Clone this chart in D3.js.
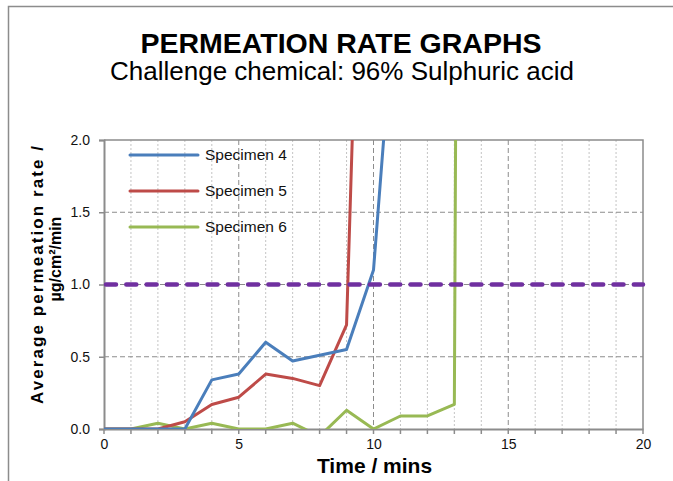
<!DOCTYPE html>
<html>
<head>
<meta charset="utf-8">
<script src="https://cdn.jsdelivr.net/npm/d3@7"></script>
<style>
    body { margin: 0; background: #fff; }
    text { font-family: "Liberation Sans", Arial, sans-serif; }
</style>
</head>
<body>
<div id="chart"></div>
<script>
// data
const minutes = [0, 1, 2, 3, 4, 5, 6, 7, 8, 9, 10, 11, 12, 13, 14]
const specimen4 = [0, 0, 0, 0, 0.34, 0.38, 0.60, 0.47, 0.51, 0.55, 1.10, 3.5]
const specimen5 = [0, 0, 0, 0.05, 0.17, 0.22, 0.38, 0.35, 0.30, 0.72, 6.8]
const specimen6 = [0, 0, 0.04, 0, 0.04, 0, 0, 0.04, -0.05, 0.13, 0, 0.09, 0.09, 0.17, 40]
const seriesNames = ["Specimen 4", "Specimen 5", "Specimen 6"]
const seriesColors = ["#4A7EBB", "#BE4B48", "#98B954"]
const limitValue = 1.0
const xTicks = [0, 5, 10, 15, 20]
const yTicks = [0, 0.5, 1.0, 1.5, 2.0]

class PermeationChart {

    constructor(parentElement) {
        this.parentElement = parentElement
        this.series = [specimen4, specimen5, specimen6].map((vals, i) => ({
            name: seriesNames[i],
            color: seriesColors[i],
            values: vals.map((v, j) => ({ t: minutes[j], v: v }))
        }))
        this.initVis()
    }

    initVis() {
        let vis = this

        vis.width = 673
        vis.height = 481
        vis.margin = { top: 140, right: 30, bottom: 52, left: 104 }
        vis.w = vis.width - vis.margin.left - vis.margin.right
        vis.h = vis.height - vis.margin.top - vis.margin.bottom

        vis.svg = d3.select("#" + vis.parentElement).append("svg")
            .attr("width", vis.width)
            .attr("height", vis.height)

        // outer frame of the chart object
        vis.svg.append("rect")
            .attr("x", 8.5).attr("y", 6.5)
            .attr("width", 700).attr("height", 520)
            .attr("fill", "#fff")
            .attr("stroke", "#8c8c8c")
            .attr("stroke-width", 1.5)

        // titles
        vis.svg.append("text")
            .attr("x", 341).attr("y", 53)
            .attr("text-anchor", "middle")
            .attr("font-size", "28.5px")
            .attr("font-weight", "bold")
            .text("PERMEATION RATE GRAPHS")

        vis.svg.append("text")
            .attr("x", 342).attr("y", 80)
            .attr("text-anchor", "middle")
            .attr("font-size", "26px")
            .text("Challenge chemical: 96% Sulphuric acid")

        vis.g = vis.svg.append("g")
            .attr("transform", "translate(" + vis.margin.left + "," + vis.margin.top + ")")

        vis.x = d3.scaleLinear().domain([0, 20]).range([0, vis.w])
        vis.y = d3.scaleLinear().domain([0, 2]).range([vis.h, 0])

        vis.g.append("clipPath").attr("id", "plot-clip")
            .append("rect").attr("width", vis.w).attr("height", vis.h)

        // minor vertical grid (every minute)
        vis.g.selectAll(".minor-grid")
            .data(d3.range(1, 20).filter(d => d % 5 !== 0))
            .enter().append("line")
            .attr("class", "minor-grid")
            .attr("x1", d => vis.x(d)).attr("x2", d => vis.x(d))
            .attr("y1", 0).attr("y2", vis.h)
            .attr("stroke", "#c4c4c4")
            .attr("stroke-width", 1)
            .attr("stroke-dasharray", "2,2")

        // major vertical grid
        vis.g.selectAll(".major-vgrid")
            .data([5, 10, 15])
            .enter().append("line")
            .attr("class", "major-vgrid")
            .attr("x1", d => vis.x(d)).attr("x2", d => vis.x(d))
            .attr("y1", 0).attr("y2", vis.h)
            .attr("stroke", "#8c8c8c")
            .attr("stroke-width", 1)
            .attr("stroke-dasharray", "5,3")

        // horizontal grid
        vis.g.selectAll(".hgrid")
            .data([0.5, 1.0, 1.5])
            .enter().append("line")
            .attr("class", "hgrid")
            .attr("x1", 0).attr("x2", vis.w)
            .attr("y1", d => vis.y(d)).attr("y2", d => vis.y(d))
            .attr("stroke", "#8c8c8c")
            .attr("stroke-width", 1)
            .attr("stroke-dasharray", "5,3")

        // plot border top / right
        vis.g.append("path")
            .attr("d", "M0,0H" + vis.w + "V" + vis.h)
            .attr("fill", "none")
            .attr("stroke", "#8c8c8c")
            .attr("stroke-width", 1.5)

        // axes
        vis.xAxis = d3.axisBottom(vis.x)
            .tickValues(xTicks)
            .tickSize(0)
            .tickPadding(8)
        vis.yAxis = d3.axisLeft(vis.y)
            .tickValues(yTicks)
            .tickFormat(d3.format(".1f"))
            .tickSize(5)
            .tickPadding(9)

        let xg = vis.g.append("g")
            .attr("class", "x-axis axis")
            .attr("transform", "translate(0," + vis.h + ")")
            .call(vis.xAxis)

        // minor x ticks at every minute
        xg.selectAll(".minor-tick")
            .data(d3.range(0, 21))
            .enter().append("line")
            .attr("class", "minor-tick")
            .attr("x1", d => vis.x(d)).attr("x2", d => vis.x(d))
            .attr("y1", 0).attr("y2", 5)
            .attr("stroke", "#8c8c8c")
            .attr("stroke-width", 1.5)

        let yg = vis.g.append("g")
            .attr("class", "y-axis axis")
            .call(vis.yAxis)

        vis.g.selectAll(".axis path")
            .attr("stroke", "#8c8c8c")
            .attr("stroke-width", 2)
        vis.g.selectAll(".axis .tick line")
            .attr("stroke", "#8c8c8c")
            .attr("stroke-width", 1.5)
        vis.g.selectAll(".axis text")
            .attr("font-family", "Liberation Sans, Arial, sans-serif")
            .attr("font-size", "14px")
            .attr("fill", "#111")
        xg.selectAll(".tick text").attr("dy", "0.85em")

        // axis titles
        vis.g.append("text")
            .attr("x", vis.x(10) + 1)
            .attr("y", vis.h + 44)
            .attr("text-anchor", "middle")
            .attr("font-size", "21px")
            .attr("font-weight", "bold")
            .text("Time / mins")

        vis.svg.append("text")
            .attr("transform", "translate(43,275) rotate(-90)")
            .attr("text-anchor", "middle")
            .attr("font-size", "17px")
            .attr("font-weight", "bold")
            .attr("textLength", 258)
            .attr("lengthAdjust", "spacing")
            .text("Average permeation rate /")

        vis.svg.append("text")
            .attr("transform", "translate(61,259) rotate(-90)")
            .attr("text-anchor", "middle")
            .attr("font-size", "16px")
            .attr("font-weight", "bold")
            .text("µg/cm²/min")

        // series lines
        vis.line = d3.line()
            .x(d => vis.x(d.t))
            .y(d => vis.y(d.v))

        let plot = vis.g.append("g").attr("clip-path", "url(#plot-clip)")

        // draw in reverse so blue sits on top like the original
        plot.selectAll(".series")
            .data(vis.series.slice().reverse())
            .enter().append("path")
            .attr("class", "series")
            .attr("d", d => vis.line(d.values))
            .attr("fill", "none")
            .attr("stroke", d => d.color)
            .attr("stroke-width", 3)
            .attr("stroke-linejoin", "round")

        // limit line at 1.0
        vis.g.append("line")
            .attr("x1", 2).attr("x2", vis.w)
            .attr("y1", vis.y(limitValue)).attr("y2", vis.y(limitValue))
            .attr("stroke", "#7030A0")
            .attr("stroke-width", 4.5)
            .attr("stroke-linecap", "round")
            .attr("stroke-dasharray", "10,10.3")

        // legend
        let legend = vis.g.selectAll(".legend")
            .data(vis.series)
            .enter().append("g")
            .attr("class", "legend")
            .attr("transform", (d, i) => "translate(26," + (15 + i * 36) + ")")

        legend.append("line")
            .attr("x1", 0).attr("x2", 68)
            .attr("stroke", d => d.color)
            .attr("stroke-width", 3)
            .attr("stroke-linecap", "round")

        legend.append("text")
            .attr("x", 75)
            .attr("dy", "0.35em")
            .attr("font-size", "15.5px")
            .attr("fill", "#111")
            .text(d => d.name)
    }
}

new PermeationChart("chart")
</script>
</body>
</html>
